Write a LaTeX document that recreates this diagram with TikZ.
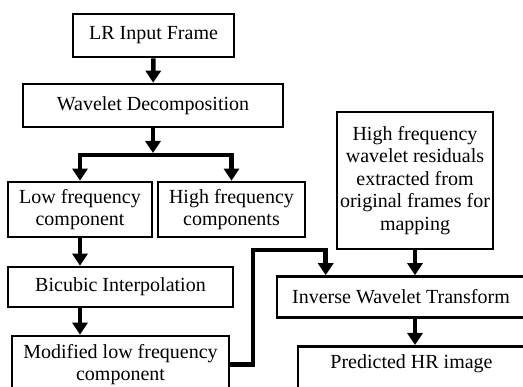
\documentclass[tikz,border=0pt]{standalone}
\usepackage{fontspec}
\setmainfont{Liberation Serif}
\usetikzlibrary{arrows.meta}
\newcommand{\diagfont}{\fontsize{20}{22.5}\selectfont}
\tikzset{
  box/.style={draw, line width=2.6pt, align=center, inner sep=0pt, font=\diagfont},
  arr/.style={line width=4.5pt, -{Triangle[width=15pt,length=12pt]}},
}
\begin{document}
\begin{tikzpicture}[x=1pt,y=-1pt]
  \useasboundingbox (0,0) rectangle (523,387);
  \clip (0,0) rectangle (523,387);

  % left column
  \node[box, minimum width=161pt, minimum height=43pt] (lr) at (153.5,35.5) {LR Input Frame};
  \node[box, minimum width=260pt, minimum height=43pt] (wd) at (153,105.5) {Wavelet Decomposition};
  \node[box, minimum width=144pt, minimum height=55pt] (lf) at (80,209.5) {Low frequency\\component};
  \node[box, minimum width=147pt, minimum height=55pt] (hf) at (231.5,209.5) {High frequency\\components};
  \node[box, minimum width=225pt, minimum height=40pt] (bi) at (120.5,287) {Bicubic Interpolation};
  \node[box, minimum width=217pt, minimum height=57pt] (mod) at (120.5,364.5) {Modified low frequency\\component};

  % right column
  \node[box, minimum width=156pt, minimum height=137pt] (res) at (415,180.5) {High frequency\\wavelet residuals\\extracted from\\original frames for\\mapping};
  \node[box, minimum width=248pt, minimum height=41pt] (iwt) at (401,297) {Inverse Wavelet Transform};
  \node[box, minimum width=227pt, anchor=north, text height=22pt, text depth=40pt] (pred) at (411.5,345) {Predicted HR image};

  \coordinate (split) at (153,155);
  \coordinate (bend) at (253,250);

  \draw[arr] (lr) -- (wd);
  \draw[arr, shorten >=2pt] (wd) -- (split);
  \draw[arr] (split) -| (lf.north);
  \draw[arr] (split) -| (hf.north);
  \draw[arr] (lf) -- (lf.south |- bi.north);
  \draw[arr] (lf.south |- bi.south) -- (lf.south |- mod.north);
  \draw[arr] (mod.east) -- (mod.east -| bend) -- (bend) -| ([xshift=50pt]iwt.north west);
  \draw[arr] (res) -- (res.south |- iwt.north);
  \draw[arr] (res.south |- iwt.south) -- (res.south |- pred.north);
\end{tikzpicture}
\end{document}
